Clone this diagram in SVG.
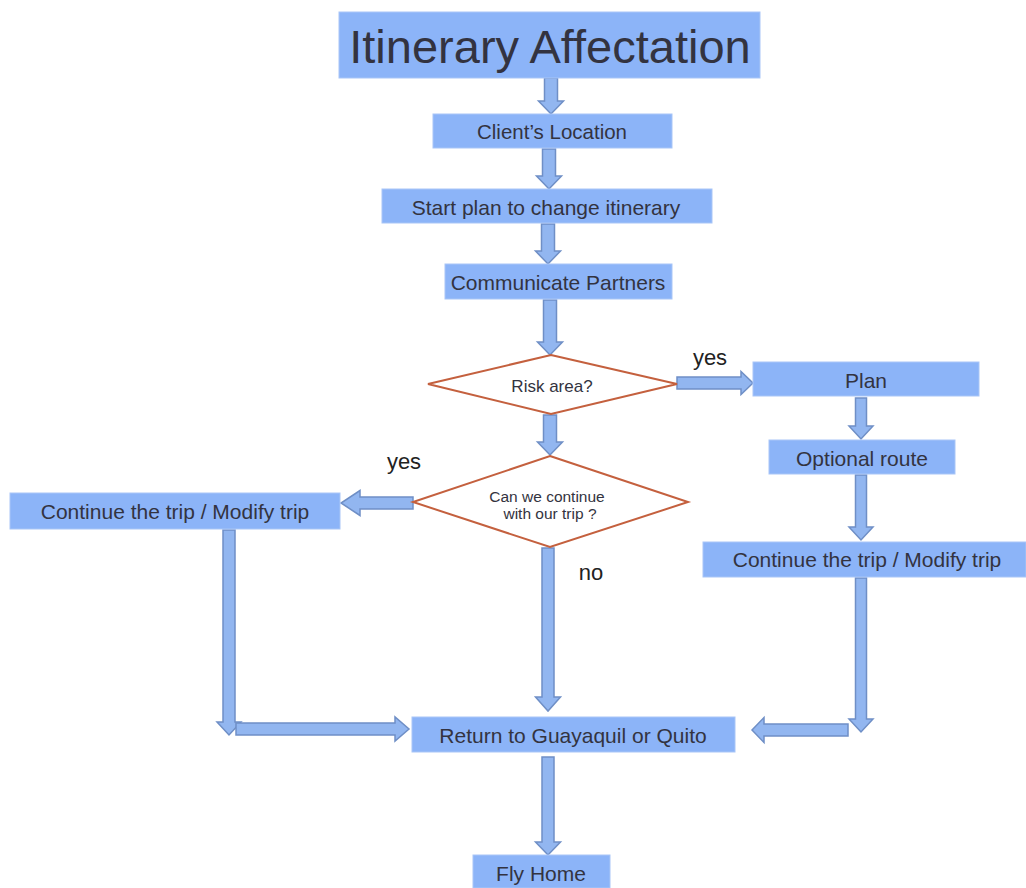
<svg xmlns="http://www.w3.org/2000/svg" width="1026" height="888" viewBox="0 0 1026 888">
<style>
.box{fill:#8cb4f8;stroke:#a9c6f7;stroke-width:1}
.dia{fill:#ffffff;stroke:#c4603e;stroke-width:2}
.arrow{fill:#92b6f0;stroke:#6f8fc6;stroke-width:1.5;stroke-linejoin:miter}
.t{font-family:"Liberation Sans",Arial,sans-serif;fill:#333340;text-anchor:middle}
.lbl{font-family:"Liberation Sans",Arial,sans-serif;fill:#222;font-size:22px;text-anchor:middle}
</style>
<rect width="1026" height="888" fill="#ffffff"/>
<g id="connectors">
<polygon class="arrow" points="544.5,78 557.5,78 557.5,101 563.5,101 551,114 538.5,101 544.5,101"/>
<polygon class="arrow" points="542.5,149 555.5,149 555.5,176 561.5,176 549,189 536.5,176 542.5,176"/>
<polygon class="arrow" points="541.5,224 554.5,224 554.5,251 560.5,251 548,264 535.5,251 541.5,251"/>
<polygon class="arrow" points="543.5,300 556.5,300 556.5,342 562.5,342 550,355 537.5,342 543.5,342"/>
<polygon class="arrow" points="543.5,415 556.5,415 556.5,442 562.5,442 550,455 537.5,442 543.5,442"/>
<polygon class="arrow" points="542,548 554,548 554,697 560.5,697 548,711 535.5,697 542,697"/>
<polygon class="arrow" points="542,757 554,757 554,842 560.5,842 548,855 535.5,842 542,842"/>
<polygon class="arrow" points="677,377 741,377 741,371.5 753,383 741,394.5 741,389 677,389"/>
<polygon class="arrow" points="855.5,398 866.5,398 866.5,426 873,426 861,439 849,426 855.5,426"/>
<polygon class="arrow" points="855.5,475 866.5,475 866.5,527 873,527 861,540 849,527 855.5,527"/>
<polygon class="arrow" points="855.5,578 866.5,578 866.5,719 873,719 861,732 849,719 855.5,719"/>
<polygon class="arrow" points="848,724 764,724 764,717.5 752,730 764,742.5 764,736 848,736"/>
<polygon class="arrow" points="413,497 360,497 360,490.5 341,503 360,515.5 360,509 413,509"/>
<polygon class="arrow" points="223,530 235,530 235,722 241,722 229,735 217,722 223,722"/>
<polygon class="arrow" points="236,723 395,723 395,717 409,729 395,741 395,735 236,735"/>
</g>
<g id="title">
<rect class="box" x="339" y="12" width="421" height="66"/>
<text class="t" x="550" y="63" font-size="47" fill="#111">Itinerary Affectation</text>
</g>
<g id="client-location">
<rect class="box" x="433" y="114" width="239" height="34"/>
<text class="t" x="552" y="139" font-size="20.5">Client’s Location</text>
</g>
<g id="start-plan">
<rect class="box" x="382" y="189" width="330" height="34"/>
<text class="t" x="546" y="215" font-size="21">Start plan to change itinerary</text>
</g>
<g id="communicate-partners">
<rect class="box" x="445" y="264" width="227" height="35"/>
<text class="t" x="558" y="290" font-size="21">Communicate Partners</text>
</g>
<g id="risk-area">
<polygon class="dia" points="551,355 677,384 551,414 428,384"/>
<text class="t" x="552" y="392" font-size="17">Risk area?</text>
</g>
<g id="yes-label-1">
<text class="lbl" x="710" y="365">yes</text>
</g>
<g id="plan">
<rect class="box" x="753" y="362" width="226" height="34"/>
<text class="t" x="866" y="388" font-size="21">Plan</text>
</g>
<g id="optional-route">
<rect class="box" x="769" y="440" width="186" height="34"/>
<text class="t" x="862" y="466" font-size="21">Optional route</text>
</g>
<g id="continue-right">
<rect class="box" x="703" y="542" width="323" height="35"/>
<text class="t" x="867" y="567" font-size="21">Continue the trip / Modify trip</text>
</g>
<g id="can-continue">
<polygon class="dia" points="550,456 688,502 550,547 413,502"/>
<text class="t" x="547" y="502" font-size="15.5">Can we continue</text>
<text class="t" x="550" y="519" font-size="15.5">with our trip ?</text>
</g>
<g id="yes-label-2">
<text class="lbl" x="404" y="469">yes</text>
</g>
<g id="no-label">
<text class="lbl" x="591" y="580">no</text>
</g>
<g id="continue-left">
<rect class="box" x="10" y="493" width="330" height="36"/>
<text class="t" x="175" y="519" font-size="21">Continue the trip / Modify trip</text>
</g>
<g id="return">
<rect class="box" x="412" y="717" width="323" height="35"/>
<text class="t" x="573" y="743" font-size="21">Return to Guayaquil or Quito</text>
</g>
<g id="fly-home">
<rect class="box" x="473" y="855" width="137" height="33"/>
<text class="t" x="541" y="881" font-size="21">Fly Home</text>
</g>
</svg>
